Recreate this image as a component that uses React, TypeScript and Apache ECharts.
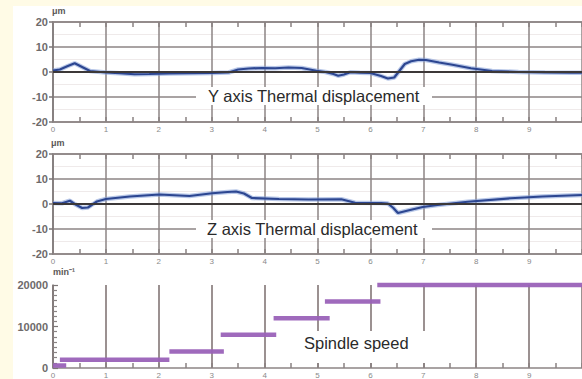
import React, { useEffect, useRef } from 'react';
import * as echarts from 'echarts';

// ---- data ----
const xTickLabels = ['0', '1', '2', '3', '4', '5', '6', '7', '8', '9'];
const dispTicks = [-20, -10, 0, 10, 20];
const speedTicks = [0, 10000, 20000];

const yDispX = [0, 0.13, 0.28, 0.41, 0.55, 0.7, 1.0, 1.26, 1.54, 1.82, 2.2, 2.6, 3.0, 3.32, 3.5, 3.7, 3.95, 4.2, 4.45, 4.7, 4.98, 5.15, 5.3, 5.39, 5.5, 5.62, 5.8, 6.0, 6.2, 6.33, 6.45, 6.55, 6.65, 6.77, 6.92, 7.05, 7.3, 7.55, 7.9, 8.3, 8.8, 9.3, 9.8, 10];
const yDispV = [0.6, 1.0, 2.4, 3.5, 2.0, 0.4, -0.2, -0.5, -0.9, -0.8, -0.6, -0.5, -0.4, -0.2, 1.0, 1.4, 1.6, 1.5, 1.8, 1.6, 0.5, 0.0, -0.8, -1.5, -1.0, -0.1, -0.3, -0.4, -1.6, -2.6, -2.2, 0.5, 3.2, 4.3, 4.9, 4.8, 3.8, 2.9, 1.5, 0.4, 0.0, -0.2, -0.3, -0.3];

const zDispX = [0, 0.17, 0.32, 0.41, 0.55, 0.66, 0.83, 1.0, 1.45, 2.01, 2.58, 3.01, 3.3, 3.46, 3.61, 3.76, 4.27, 4.83, 5.45, 5.71, 6.2, 6.33, 6.43, 6.52, 6.71, 6.99, 7.27, 7.84, 8.65, 9.25, 10];
const zDispV = [0.4, 0.3, 1.3, 0.0, -1.6, -1.4, 1.0, 2.0, 3.0, 3.8, 3.2, 4.3, 4.8, 5.0, 4.2, 2.4, 2.0, 1.8, 1.9, 0.5, 0.4, 0.2, -1.5, -3.6, -2.6, -1.2, -0.4, 0.9, 2.3, 3.0, 3.6];

const stepStart = [0, 0.13, 2.2, 3.17, 4.17, 5.14, 6.13];
const stepEnd = [0.25, 2.2, 3.23, 4.22, 5.23, 6.19, 10];
const stepSpeed = [600, 2000, 4000, 8000, 12000, 16000, 20000];

const FONT = '"Liberation Sans", Arial, Helvetica, sans-serif';
const GRID_COLOR = '#8d8585';

function pairs(xs: number[], vs: number[]) {
  return xs.map((x, i) => [x, vs[i]]);
}

function bottomX(gridIndex: number, splitColor: string, splitWidth: number) {
  return {
    type: 'value',
    gridIndex,
    min: 0,
    max: 10,
    interval: 1,
    position: 'bottom',
    axisLine: { show: true, onZero: false, lineStyle: { color: GRID_COLOR, width: 1.5 } },
    axisTick: { show: true, inside: true, length: 5, lineStyle: { color: '#8a8282', width: 1.5 } },
    minorTick: { show: true, splitNumber: 2, length: 5, lineStyle: { color: '#8a8282', width: 1.5 } },
    axisLabel: {
      show: true,
      margin: 3,
      fontSize: 8,
      color: '#8a8a8a',
      fontFamily: FONT,
      showMaxLabel: false,
      formatter: (v: number) => xTickLabels[Math.round(v)] ?? '',
    },
    splitLine: { show: true, lineStyle: { color: splitColor, width: splitWidth } },
    minorSplitLine: { show: false },
  };
}

function topX(gridIndex: number) {
  return {
    type: 'value',
    gridIndex,
    min: 0,
    max: 10,
    interval: 1,
    position: 'top',
    axisLine: { show: true, onZero: false, lineStyle: { color: GRID_COLOR, width: 1.5 } },
    axisTick: { show: true, inside: true, length: 5, lineStyle: { color: '#8a8282', width: 1.5 } },
    minorTick: { show: true, splitNumber: 2, length: 5, lineStyle: { color: '#8a8282', width: 1.5 } },
    axisLabel: { show: false },
    splitLine: { show: false },
  };
}

function dispY(gridIndex: number) {
  return {
    type: 'value',
    gridIndex,
    min: dispTicks[0],
    max: dispTicks[dispTicks.length - 1],
    interval: 10,
    axisLine: { show: true, lineStyle: { color: '#7c7676', width: 1.5 } },
    axisTick: { show: true, inside: false, length: 4, lineStyle: { color: '#7c7676', width: 1.5 } },
    axisLabel: { margin: 5, fontSize: 11, fontWeight: 'bold', color: '#6e6a6a', fontFamily: FONT, formatter: (v: number) => String(v) },
    splitLine: { show: true, lineStyle: { color: GRID_COLOR, width: 1.5 } },
    minorSplitLine: { show: true, lineStyle: { color: '#efeaea', width: 1 } },
    minorTick: { show: false, splitNumber: 2 },
  };
}

function labelBox(x0: number, y0: number, w: number, h: number, tx: number, ty: number, text: string) {
  return {
    type: 'group',
    z: 100,
    children: [
      { type: 'rect', shape: { x: x0, y: y0, width: w, height: h }, style: { fill: '#ffffff' }, z: 100 },
      {
        type: 'text',
        x: tx,
        y: ty,
        z: 101,
        style: { text, fill: '#2a2a2a', font: `16.5px ${FONT}`, verticalAlign: 'middle', align: 'left' },
      },
    ],
  };
}

function unitText(x: number, y: number, text: string) {
  return {
    type: 'text',
    x,
    y,
    z: 100,
    style: { text, fill: '#5a5656', font: `bold 9px ${FONT}`, verticalAlign: 'middle', align: 'left' },
  };
}

export default function App() {
  const ref = useRef<HTMLDivElement>(null);

  useEffect(() => {
    if (!ref.current) return;
    const chart = echarts.init(ref.current, undefined, { renderer: 'svg' });

    const stepSeries = stepStart.map((s, i) => ({
      type: 'line',
      xAxisIndex: 4,
      yAxisIndex: 2,
      data: [
        [s, stepSpeed[i]],
        [stepEnd[i], stepSpeed[i]],
      ],
      symbol: 'none',
      clip: false,
      z: 5,
      lineStyle: { color: '#9a62b8', width: 4.5, opacity: 0.95 },
      silent: true,
    }));

    const zeroMark = {
      silent: true,
      symbol: 'none',
      label: { show: false },
      lineStyle: { color: '#3c3838', width: 2, type: 'solid' },
      data: [{ yAxis: 0 }],
    };

    chart.setOption({
      animation: false,
      backgroundColor: 'transparent',
      grid: [
        { left: 53, top: 22, width: 532, height: 100 },
        { left: 53, top: 154, width: 532, height: 100 },
        { left: 53, top: 285, width: 532, height: 83 },
      ],
      xAxis: [
        bottomX(0, GRID_COLOR, 1.5),
        topX(0),
        bottomX(1, GRID_COLOR, 1.5),
        topX(1),
        bottomX(2, '#9b9191', 2),
      ],
      yAxis: [
        dispY(0),
        dispY(1),
        {
          type: 'value',
          gridIndex: 2,
          min: speedTicks[0],
          max: speedTicks[speedTicks.length - 1],
          interval: 10000,
          axisLine: { show: true, lineStyle: { color: '#7c7676', width: 1.5 } },
          axisTick: { show: true, inside: true, length: 5, lineStyle: { color: '#7c7676', width: 1.2 } },
          minorTick: { show: true, splitNumber: 8, length: 4, lineStyle: { color: '#8a8484', width: 1.2 } },
          axisLabel: { margin: 5, fontSize: 11, fontWeight: 'bold', color: '#6e6a6a', fontFamily: FONT, formatter: (v: number) => String(v) },
          splitLine: { show: false },
        },
      ],
      series: [
        {
          type: 'line',
          xAxisIndex: 0,
          yAxisIndex: 0,
          data: pairs(yDispX, yDispV),
          symbol: 'none',
          z: 3,
          lineStyle: { color: '#7f9ad6', width: 4.5, opacity: 0.55 },
          silent: true,
          markLine: zeroMark,
        },
        {
          type: 'line',
          xAxisIndex: 0,
          yAxisIndex: 0,
          data: pairs(yDispX, yDispV),
          symbol: 'none',
          z: 4,
          lineStyle: { color: '#2c4691', width: 2.2 },
          silent: true,
        },
        {
          type: 'line',
          xAxisIndex: 2,
          yAxisIndex: 1,
          data: pairs(zDispX, zDispV),
          symbol: 'none',
          z: 3,
          lineStyle: { color: '#7f9ad6', width: 4.5, opacity: 0.55 },
          silent: true,
          markLine: zeroMark,
        },
        {
          type: 'line',
          xAxisIndex: 2,
          yAxisIndex: 1,
          data: pairs(zDispX, zDispV),
          symbol: 'none',
          z: 4,
          lineStyle: { color: '#2c4691', width: 2.2 },
          silent: true,
        },
        ...stepSeries,
      ],
      graphic: [
        unitText(52, 11, 'μm'),
        unitText(51, 143, 'μm'),
        unitText(53, 272, 'min⁻¹'),
        labelBox(196, 87, 236, 18, 208, 96, 'Y axis Thermal displacement'),
        labelBox(196, 220, 236, 18, 207, 229, 'Z axis Thermal displacement'),
        labelBox(298, 331, 132, 32, 304, 343, 'Spindle speed'),
      ],
    });

    return () => chart.dispose();
  }, []);

  return (
    <div style={{ position: 'absolute', left: 0, top: 0, width: 582, height: 379, background: '#fffbe6', overflow: 'hidden' }}>
      <div style={{ position: 'absolute', left: 13, top: 6, width: 569, height: 373, background: '#ffffff' }} />
      <div ref={ref} style={{ position: 'absolute', left: 0, top: 0, width: 582, height: 379 }} />
    </div>
  );
}
